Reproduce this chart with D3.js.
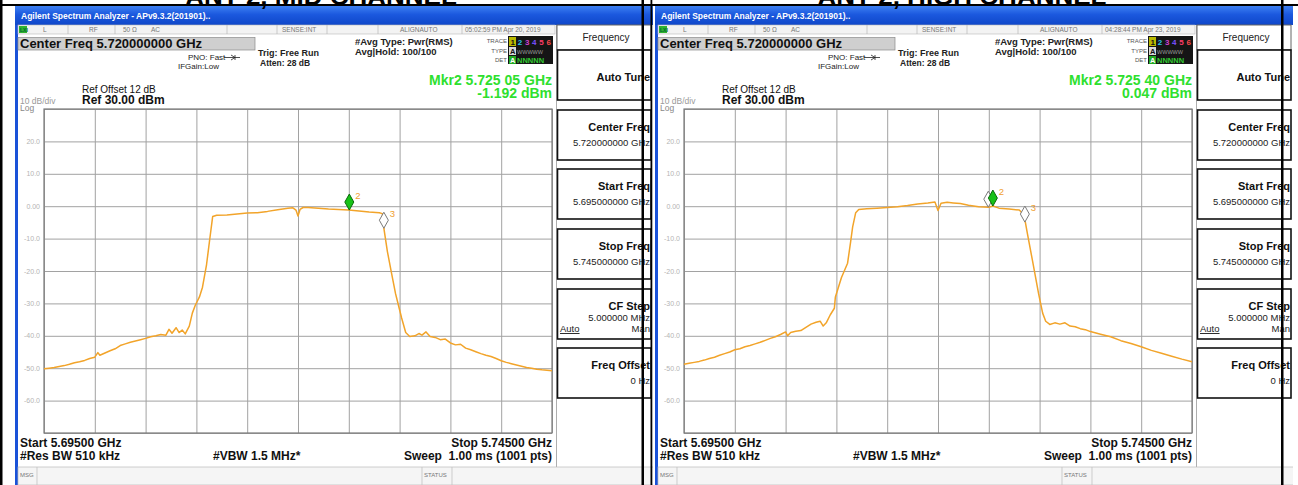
<!DOCTYPE html>
<html><head><meta charset="utf-8">
<script src="https://cdn.jsdelivr.net/npm/d3@7"></script>
<style>
body{margin:0;background:#fff;overflow:hidden}
svg{display:block}
text{font-family:"Liberation Sans",Arial,Helvetica,sans-serif}
</style></head>
<body><svg id="c" width="1298" height="485"></svg>
<script>
// ---------------- DATA ----------------
const panelTitles = ["ANT 2, MID CHANNEL", "ANT 2, HIGH CHANNEL"];
const timestamps = ["05:02:59 PM Apr 20, 2019", "04:28:44 PM Apr 23, 2019"];
const markerReadFreq = ["5.725 05 GHz", "5.725 40 GHz"];
const markerReadLevel = ["-1.192 dBm", "0.047 dBm"];
const centerFreqGHz = 5.72;
const startFreqGHz = 5.695;
const stopFreqGHz = 5.745;
const refLevelDbm = 30;
const bottomLevelDbm = -70;
const yTickValues = [20, 10, 0, -10, -20, -30, -40, -50, -60];
const yTickLabels = ["20.0", "10.0", "0.00", "-10.0", "-20.0", "-30.0", "-40.0", "-50.0", "-60.0"];
const softkeyLabels = ["Auto Tune", "Center Freq", "Start Freq", "Stop Freq", "CF Step", "Freq Offset"];
const softkeyValues = ["", "5.720000000 GHz", "5.695000000 GHz", "5.745000000 GHz", "5.000000 MHz", "0 Hz"];

// trace: offset in MHz from start frequency, level in dBm
const midFreqMHz = [0,0.5,1,1.5,2,2.5,3,3.5,4,4.5,5,5.3,5.5,6,6.5,7,7.5,8,8.5,9,9.5,10,10.5,11,11.5,12,12.3,12.6,13,13.3,13.6,13.9,14.3,14.6,14.9,15.3,15.6,16,16.3,16.6,17,18,19,20,21,22,23,24,24.5,24.8,25,25.2,25.5,26,27,28,29,30,31,32,33,33.3,33.45,33.8,34.2,34.6,34.8,35.2,35.6,36,36.5,36.9,37.2,37.6,38,38.5,39,39.5,40,40.5,41,41.5,42,42.5,43,43.5,44,44.5,45,45.5,46,46.5,47,47.5,48,48.5,49,49.5,50];
const midLevelDbm = [-50.2,-50.0,-49.8,-49.5,-49.2,-48.8,-48.3,-48.0,-47.6,-47.0,-46.6,-45.2,-46.0,-45.3,-44.6,-44.0,-43.0,-42.5,-42.0,-41.6,-41.2,-40.8,-40.3,-40.0,-39.6,-39.8,-38.0,-39.2,-37.5,-39.0,-38.2,-39.4,-37.0,-33.0,-30.5,-28.0,-25.0,-18.0,-10.5,-3.2,-2.8,-2.7,-2.4,-2.1,-2.0,-1.6,-1.1,-0.6,-0.5,-1.2,-3.0,-1.0,-0.4,-0.4,-0.6,-0.9,-1.0,-1.2,-1.5,-1.8,-2.0,-2.3,-6.8,-14.0,-20.6,-27.0,-29.5,-34.5,-39.0,-40.2,-40.0,-39.3,-39.8,-38.8,-40.2,-40.5,-41.2,-41.0,-42.2,-42.8,-42.6,-43.8,-44.3,-44.9,-45.5,-46.0,-46.4,-47.0,-47.7,-48.2,-48.6,-49.0,-49.4,-49.8,-50.0,-50.3,-50.5,-50.6,-50.8];
const highFreqMHz = [0,0.5,1,1.5,2,2.5,3,3.5,4,4.5,5,5.5,6,6.5,7,7.5,8,8.5,9,9.5,10,10.2,10.5,11,11.5,12,12.5,13,13.4,13.7,14,14.4,14.8,14.9,15.2,15.5,16.1,16.4,16.6,16.9,17.2,18,19,20,21,22,23,24,24.7,25,25.3,25.9,26.5,27.2,28,29,30,30.4,31,32,33,33.4,33.6,33.8,34.3,34.9,35.3,35.6,36,36.5,37,37.5,38,38.5,39,39.5,40,41,42,43,44,45,46,47,48,49,50];
const highLevelDbm = [-48.8,-48.5,-48.2,-47.9,-47.5,-47.0,-46.6,-46.0,-45.5,-45.0,-44.3,-44.0,-43.4,-43.0,-42.5,-42.0,-41.4,-40.8,-40.3,-39.6,-38.8,-40.0,-39.0,-38.6,-38.4,-37.4,-36.4,-35.8,-35.5,-37.0,-36.0,-33.5,-31.5,-28.0,-25.0,-22.0,-17.6,-11.0,-6.4,-2.0,-1.0,-0.8,-0.6,-0.4,-0.2,0.2,0.7,1.0,1.3,-1.3,0.9,1.2,1.0,0.8,0.3,-0.2,-0.3,0.05,-0.6,-0.9,-1.2,-2.5,-5.0,-8.5,-16.8,-27.0,-33.0,-35.5,-36.5,-36.0,-36.4,-36.0,-37.0,-37.2,-37.8,-38.1,-38.7,-39.5,-40.3,-41.5,-42.4,-43.4,-44.5,-45.4,-46.3,-47.2,-48.0];

const midMarkerIds = ["2", "3"];
const midMarkerFreqMHz = [30.05, 33.45];
const midMarkerLevelDbm = [-1.192, -6.8];
const highMarkerIds = ["1", "2", "3"];
const highMarkerFreqMHz = [29.95, 30.40, 33.55];
const highMarkerLevelDbm = [-0.3, 0.047, -4.9];

// ---------------- DRAW ----------------
const svg = d3.select("#c");
const defs = svg.append("defs");
const grad = defs.append("linearGradient").attr("id","tb").attr("x1",0).attr("y1",0).attr("x2",0).attr("y2",1);
grad.append("stop").attr("offset","0%").attr("stop-color","#3d80f2");
grad.append("stop").attr("offset","45%").attr("stop-color","#1b58de");
grad.append("stop").attr("offset","100%").attr("stop-color","#0f47c9");

const panels = [
  {ox:0, time:timestamps[0], mf:markerReadFreq[0], ml:markerReadLevel[0], f:midFreqMHz, l:midLevelDbm, mid:midMarkerIds, mfq:midMarkerFreqMHz, mlv:midMarkerLevelDbm},
  {ox:640, time:timestamps[1], mf:markerReadFreq[1], ml:markerReadLevel[1], f:highFreqMHz, l:highLevelDbm, mid:highMarkerIds, mfq:highMarkerFreqMHz, mlv:highMarkerLevelDbm}
];

panels.forEach((p, i) => {
  const cid = "clip" + i;
  defs.append("clipPath").attr("id", cid).append("rect").attr("x",15).attr("y",6).attr("width",638).attr("height",479);
  const g = svg.append("g").attr("transform", `translate(${p.ox},0)`).attr("clip-path", `url(#${cid})`);

  // window frame
  g.append("rect").attr("x",15).attr("y",6).attr("width",640).attr("height",480).attr("fill","#1a52d8");
  g.append("rect").attr("x",18).attr("y",25).attr("width",640).attr("height",460).attr("fill","#ffffff");
  g.append("rect").attr("x",15).attr("y",6).attr("width",640).attr("height",19).attr("fill","url(#tb)");
  g.append("text").attr("x",21).attr("y",19).attr("font-size",8.5).attr("font-weight","bold").attr("fill","#ffffff")
    .text("Agilent Spectrum Analyzer - APv9.3.2(201901)..");

  // status row
  g.append("rect").attr("x",18).attr("y",25).attr("width",537).attr("height",9).attr("fill","#f3f3f3").attr("stroke","#b8b8b8").attr("stroke-width",0.6);
  [68,115,227,277,327,378,462].forEach(sx => g.append("line").attr("x1",sx).attr("x2",sx).attr("y1",25).attr("y2",34).attr("stroke","#b0b0b0").attr("stroke-width",0.6));
  g.append("rect").attr("x",19).attr("y",26).attr("width",8).attr("height",7).attr("fill","#2fb32f");
  g.append("text").attr("x",20).attr("y",32).attr("font-size",5).attr("font-weight","bold").attr("fill","#063").text("LXI");
  const st = [[43,"L"],[89,"RF"],[123,"50 Ω"],[151,"AC"],[282,"SENSE:INT"],[400,"ALIGNAUTO"],[465,p.time]];
  st.forEach(s => g.append("text").attr("x",s[0]).attr("y",32).attr("font-size",6.5).attr("fill","#777").text(s[1]));

  // header
  g.append("rect").attr("x",18).attr("y",37.5).attr("width",237).attr("height",12.5).attr("fill","#cfcfcf").attr("stroke","#8a8a8a").attr("stroke-width",0.7);
  g.append("text").attr("x",20).attr("y",48).attr("font-size",13).attr("font-weight","bold").attr("fill","#111").text("Center Freq  " + centerFreqGHz.toFixed(9) + " GHz");
  g.append("text").attr("x",188).attr("y",60).attr("font-size",8).attr("fill","#222").text("PNO: Fast");
  g.append("path").attr("d","M224,57.5 L240,57.5 M231,55 L235,57.5 L231,60 M235,55 L235,60").attr("stroke","#222").attr("stroke-width",0.8).attr("fill","none");
  g.append("text").attr("x",178).attr("y",69).attr("font-size",8).attr("fill","#222").text("IFGain:Low");
  g.append("text").attr("x",258).attr("y",56).attr("font-size",9).attr("font-weight","bold").attr("fill","#222").text("Trig: Free Run");
  g.append("text").attr("x",260).attr("y",66).attr("font-size",8.5).attr("font-weight","bold").attr("fill","#222").text("Atten: 28 dB");
  g.append("text").attr("x",355).attr("y",45).attr("font-size",9.5).attr("font-weight","bold").attr("fill","#222").text("#Avg Type: Pwr(RMS)");
  g.append("text").attr("x",355).attr("y",55).attr("font-size",9.5).attr("font-weight","bold").attr("fill","#222").text("Avg|Hold: 100/100");

  // trace box
  [["TRACE",43],["TYPE",53],["DET",62]].forEach(t => g.append("text").attr("x",507).attr("y",t[1]).attr("text-anchor","end").attr("font-size",6).attr("fill","#555").text(t[0]));
  g.append("rect").attr("x",508).attr("y",36).attr("width",45).attr("height",28).attr("fill","#151515");
  g.append("rect").attr("x",509).attr("y",37).attr("width",7).attr("height",9).attr("fill","#b9b900");
  const dc = ["#111","#28c8e8","#d040d0","#7a50ff","#ff3a6a","#ff4a4a"];
  dc.forEach((c,k) => g.append("text").attr("x",510.5 + k*7.2).attr("y",44.5).attr("font-size",8).attr("font-weight","bold").attr("fill",c).text(String(k+1)));
  g.append("rect").attr("x",509).attr("y",47).attr("width",7).attr("height",8).attr("fill","#d8d8d8");
  g.append("text").attr("x",510).attr("y",54).attr("font-size",7.5).attr("font-weight","bold").attr("fill","#111").text("A");
  g.append("text").attr("x",517).attr("y",53.5).attr("font-size",5.5).attr("fill","#9a9a9a").text("WWWWW");
  g.append("rect").attr("x",509).attr("y",56).attr("width",7).attr("height",8).attr("fill","#2a2");
  g.append("text").attr("x",510).attr("y",63).attr("font-size",7.5).attr("font-weight","bold").attr("fill","#fff").text("A");
  g.append("text").attr("x",517).attr("y",63).attr("font-size",7.5).attr("font-weight","bold").attr("fill","#3c3").text("NNNNN");

  // marker readout
  g.append("text").attr("x",552).attr("y",85).attr("text-anchor","end").attr("font-size",14).attr("font-weight","bold").attr("fill","#2ee02e").text("Mkr2 " + p.mf);
  g.append("text").attr("x",552).attr("y",98).attr("text-anchor","end").attr("font-size",14).attr("font-weight","bold").attr("fill","#2ee02e").text(p.ml);

  g.append("text").attr("x",82).attr("y",93).attr("font-size",10).attr("fill","#111").text("Ref Offset 12 dB");
  g.append("text").attr("x",82).attr("y",104).attr("font-size",12).attr("font-weight","bold").attr("fill","#111").text("Ref " + refLevelDbm.toFixed(2) + " dBm");
  g.append("text").attr("x",20).attr("y",104).attr("font-size",8.5).attr("fill","#9a9a9a").text("10 dB/div");
  g.append("text").attr("x",20).attr("y",111).attr("font-size",8.5).attr("fill","#888").text("Log");

  // plot
  const x = d3.scaleLinear().domain([0, (stopFreqGHz - startFreqGHz) * 1000]).range([44, 552]);
  const y = d3.scaleLinear().domain([bottomLevelDbm, refLevelDbm]).range([433, 109]);
  const plot = g.append("g");
  plot.append("rect").attr("x",44).attr("y",109).attr("width",508).attr("height",324).attr("fill","#fff");
  const gx = plot.append("g").attr("transform","translate(0,433)")
    .call(d3.axisBottom(x).tickValues(d3.range(0, 50.01, 5)).tickSize(-324).tickFormat(""));
  const gy = plot.append("g").attr("transform","translate(44,0)")
    .call(d3.axisLeft(y).tickValues(d3.range(bottomLevelDbm, refLevelDbm + 0.01, 10)).tickSize(-508).tickFormat(""));
  [gx, gy].forEach(a => { a.select(".domain").remove(); a.selectAll("line").attr("stroke","#a2a2a2").attr("stroke-width",1); });
  plot.append("rect").attr("x",44).attr("y",109).attr("width",508).attr("height",324).attr("fill","none").attr("stroke","#7a7a7a").attr("stroke-width",1.2);
  yTickValues.forEach((v,k) => plot.append("text").attr("x",40).attr("y",y(v)+2.5).attr("text-anchor","end")
    .attr("font-size",7).attr("fill","#b4b4b4").text(yTickLabels[k]));

  const pts = p.f.map((fv,k) => [fv, p.l[k]]);
  plot.append("path").datum(pts).attr("fill","none").attr("stroke","#f2a42a").attr("stroke-width",1.5).attr("stroke-linejoin","round")
    .attr("d", d3.line().x(d => x(d[0])).y(d => y(d[1])));

  // markers
  p.mid.forEach((id,k) => {
    const px = x(p.mfq[k]), py = y(p.mlv[k]);
    const active = id === "2";
    plot.append("path").attr("d",`M${px},${py} L${px+4.5},${py-8} L${px},${py-16} L${px-4.5},${py-8} Z`)
      .attr("fill", active ? "#17c217" : "#ffffff").attr("stroke", active ? "#0a6a0a" : "#7a7a7a").attr("stroke-width",1);
    if (id !== "1") plot.append("text").attr("x",px+6).attr("y",py-11).attr("font-size",9.5).attr("fill","#f0a030").text(id);
  });

  // softkeys
  g.append("line").attr("x1",556.5).attr("x2",556.5).attr("y1",25).attr("y2",467).attr("stroke","#999").attr("stroke-width",0.8);
  g.append("rect").attr("x",557).attr("y",25).attr("width",94).attr("height",25).attr("fill","#fff").attr("stroke","#666").attr("stroke-width",1);
  g.append("text").attr("x",606).attr("y",41).attr("text-anchor","middle").attr("font-size",10).attr("fill","#222").text("Frequency");
  const tops = [50,110,169,229,289,348];
  softkeyLabels.forEach((lab,k) => {
    const t = tops[k];
    g.append("rect").attr("x",557.5).attr("y",t).attr("width",93.5).attr("height",50).attr("fill","#fff").attr("stroke","#111").attr("stroke-width",1.6);
    const ly = k === 0 ? t + 31 : t + 21;
    g.append("text").attr("x",650).attr("y",ly).attr("text-anchor","end").attr("font-size",11).attr("font-weight","bold").attr("fill","#111").text(lab);
    if (softkeyValues[k]) g.append("text").attr("x",650).attr("y",t + (k===4 ? 32 : 36)).attr("text-anchor","end").attr("font-size",9.5).attr("fill","#222").text(softkeyValues[k]);
    if (k === 4) {
      g.append("text").attr("x",560).attr("y",t+43).attr("font-size",9.5).attr("fill","#222").attr("text-decoration","underline").text("Auto");
      g.append("text").attr("x",650).attr("y",t+43).attr("text-anchor","end").attr("font-size",9.5).attr("fill","#222").text("Man");
    }
  });

  // bottom annotations
  g.append("text").attr("x",20).attr("y",447).attr("font-size",12).attr("font-weight","bold").attr("fill","#111").text("Start " + startFreqGHz.toFixed(5) + " GHz");
  g.append("text").attr("x",20).attr("y",460).attr("font-size",12).attr("font-weight","bold").attr("fill","#111").text("#Res BW 510 kHz");
  g.append("text").attr("x",213).attr("y",460).attr("font-size",12).attr("font-weight","bold").attr("fill","#111").text("#VBW 1.5 MHz*");
  g.append("text").attr("x",552).attr("y",447).attr("text-anchor","end").attr("font-size",12).attr("font-weight","bold").attr("fill","#111").text("Stop " + stopFreqGHz.toFixed(5) + " GHz");
  g.append("text").attr("x",552).attr("y",460).attr("text-anchor","end").attr("font-size",12).attr("font-weight","bold").attr("fill","#111").attr("xml:space","preserve").text("Sweep  1.00 ms (1001 pts)");

  // message row
  g.append("rect").attr("x",18).attr("y",467).attr("width",640).attr("height",18).attr("fill","#f5f5f5").attr("stroke","#bbb").attr("stroke-width",0.7);
  [37,422,452].forEach(sx => g.append("line").attr("x1",sx).attr("x2",sx).attr("y1",467).attr("y2",485).attr("stroke","#bbb").attr("stroke-width",0.7));
  g.append("text").attr("x",20).attr("y",477).attr("font-size",6).attr("fill","#777").text("MSG");
  g.append("text").attr("x",424).attr("y",477).attr("font-size",6).attr("fill","#777").text("STATUS");
});

// page frame: titles and rule lines
const titleX = [321, 962];
panelTitles.forEach((t,k) => svg.append("text").attr("x",titleX[k]).attr("y",4.5).attr("text-anchor","middle")
  .attr("font-size",26).attr("font-weight","bold").attr("fill","#000").text(t));
svg.append("rect").attr("x",0).attr("y",4).attr("width",1298).attr("height",2).attr("fill","#000");
[[0,2.5],[641.5,2.5],[650.5,1.8],[1281,2.5]].forEach(v => svg.append("rect").attr("x",v[0]).attr("y",0).attr("width",v[1]).attr("height",485).attr("fill","#000"));
</script></body></html>
